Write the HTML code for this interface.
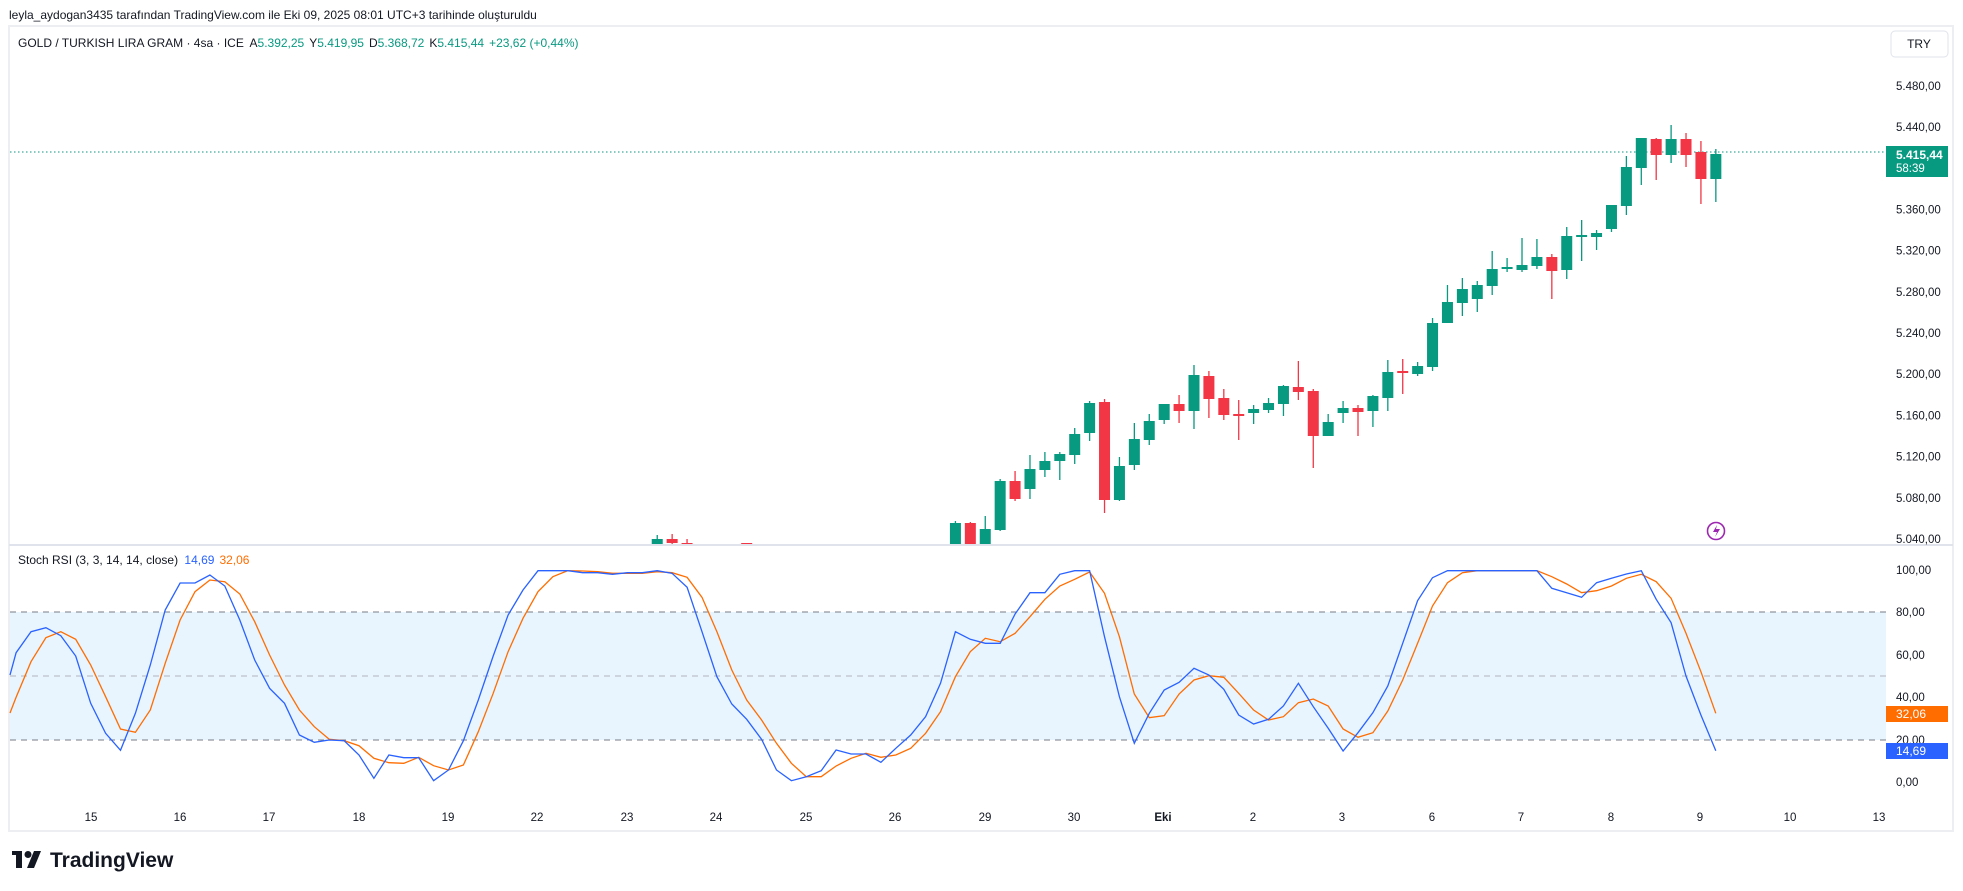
<!DOCTYPE html>
<html><head><meta charset="utf-8"><style>
body{margin:0;background:#fff;width:1963px;height:891px;overflow:hidden;font-family:"Liberation Sans",sans-serif;}
svg{position:absolute;left:0;top:0}
</style></head><body>
<svg id="s" width="1963" height="891" xmlns="http://www.w3.org/2000/svg" font-family="Liberation Sans, sans-serif">
<text x="9" y="19" font-size="12" fill="#131722">leyla_aydogan3435 tarafından TradingView.com ile Eki 09, 2025 08:01 UTC+3 tarihinde oluşturuldu</text>
<rect x="9" y="26" width="1944" height="805" fill="#fff" stroke="#eceef2" stroke-width="2"/>
<line x1="9" y1="545" x2="1953" y2="545" stroke="#e0e3eb" stroke-width="2"/>
<text x="18" y="47" font-size="12" fill="#131722">GOLD / TURKISH LIRA GRAM · 4sa · ICE <tspan dx="3">A</tspan><tspan fill="#089981">5.392,25</tspan><tspan dx="5">Y</tspan><tspan fill="#089981">5.419,95</tspan><tspan dx="5">D</tspan><tspan fill="#089981">5.368,72</tspan><tspan dx="5">K</tspan><tspan fill="#089981">5.415,44</tspan><tspan dx="5" fill="#089981">+23,62 (+0,44%)</tspan></text>
<rect x="1891" y="31" width="57" height="26" rx="4" fill="#fff" stroke="#e0e3eb"/>
<text x="1919" y="48" font-size="12" fill="#131722" text-anchor="middle">TRY</text>
<g id="g"></g>
<text x="18" y="564" font-size="12" fill="#131722">Stoch RSI (3, 3, 14, 14, close) <tspan dx="3" fill="#2962ff">14,69</tspan><tspan dx="5" fill="#ff6d00">32,06</tspan></text>
<g transform="translate(12,851)">
<rect x="0" y="0" width="10" height="4" fill="#131722"/><rect x="4" y="0" width="6" height="17" fill="#131722"/>
<circle cx="16" cy="3.5" r="3.5" fill="#131722"/><polygon points="22,0 29,0 22,17 15,17" fill="#131722"/>
<text x="38" y="16" font-size="21" font-weight="bold" fill="#131722">TradingView</text></g>
</svg>
<script>
const g=document.getElementById('g');let h='';
const X=i=>16.1+i*14.91;
const py=p=>127+(5440-p)*1.03;
// stoch band
h+=`<rect x="10" y="612" width="1876" height="128" fill="#2196f3" fill-opacity="0.1"/>`;
[612,740].forEach(y=>h+=`<line x1="10" x2="1886" y1="${y}" y2="${y}" stroke="#787b86" stroke-dasharray="6,5"/>`);
h+=`<line x1="10" x2="1886" y1="676" y2="676" stroke="#b2b5be" stroke-dasharray="6,5"/>`;
// price labels
for(let p=5480;p>=5040;p-=40){if(p==5400)continue;h+=`<text x="1896" y="${py(p)+4}" font-size="11.5" fill="#131722">${(p/1000).toFixed(3).replace('.', '.')},00</text>`;}
[[100,570],[80,612],[60,655],[40,697],[20,740],[0,782]].forEach(a=>h+=`<text x="1896" y="${a[1]+4}" font-size="11.5" fill="#131722">${a[0].toFixed(2).replace('.',',')}</text>`);
// time labels
const tl=[['15',91],['16',180],['17',269],['18',359],['19',448],['22',537],['23',627],['24',716],['25',806],['26',895],['29',985],['30',1074],['Eki',1163],['2',1253],['3',1342],['6',1432],['7',1521],['8',1611],['9',1700],['10',1790],['13',1879]];
tl.forEach(t=>h+=`<text x="${t[1]}" y="821" font-size="11.5" fill="#131722" text-anchor="middle" ${t[0]=='Eki'?'font-weight="bold"':''}>${t[0]}</text>`);
// candles [i,type,bt,bb,wt,wb]
const C=[[43,1,539,544,535,544],[44,0,539,543,534,544],[45,0,543,544,539,544],[49,0,543,544,543,544],
[63,1,523,544,521,544],[64,0,523,544,522,544],[65,1,529,544,516,544],[66,1,481,530,479,531],[67,0,481,499,471,501],[68,1,469,489,455,499],[69,1,461,470,452,477],[70,1,454,461,452,480],[71,1,434,455,428,464],[72,1,403,433,401,441],[73,0,402,500,399,513],[74,1,466,500,457,501],[75,1,439,465,423,470],[76,1,421,440,414,445],[77,1,404,420,404,424],[78,0,404,411,395,423],[79,1,375,411,365,429],[80,0,376,399,371,418],[81,0,398,415,389,420],[82,0,414,416,400,440],[83,1,409,413,405,424],[84,1,403,410,398,413],[85,1,386,404,385,416],[86,0,387,392,361,400],[87,0,391,436,389,468],[88,1,422,436,414,436],[89,1,408,413,401,423],[90,0,408,412,405,436],[91,1,396,411,395,427],[92,1,372,398,360,411],[93,0,371,373,359,394],[94,1,366,374,362,376],[95,1,323,367,318,371],[96,1,302,323,285,323],[97,1,289,303,278,316],[98,1,285,299,281,312],[99,1,269,286,251,295],[100,1,267,269,258,272],[101,1,265,270,238,272],[102,1,257,266,239,269],[103,0,257,271,254,299],[104,1,236,270,227,279],[105,1,235,237,220,261],[106,1,233,237,230,250],[107,1,205,229,205,232],[108,1,167,206,156,215],[109,1,138,168,138,185],[110,0,139,155,138,180],[111,1,139,155,125,163],[112,0,139,155,133,167],[113,0,152,179,141,204],[114,1,154,179,149,202]];
h+=`<line x1="10" x2="1886" y1="152" y2="152" stroke="#089981" stroke-dasharray="1.5,2.5"/>`;
C.forEach(c=>{const x=X(c[0]),col=c[1]?'#089981':'#f23645';
h+=`<line x1="${x}" x2="${x}" y1="${c[4]}" y2="${c[5]}" stroke="${col}" stroke-width="1.3"/>`;
h+=`<rect x="${x-5.5}" y="${c[2]}" width="11" height="${Math.max(1.3,c[3]-c[2])}" fill="${col}"/>`;});
h+=`<rect x="9" y="544" width="1877" height="2" fill="#e0e3eb"/>`;
// stoch lines (display y -> real 550+d/3)
const B=[308,245,233,257,318,460,550,601,490,345,180,99,99,75,108,210,330,415,460,555,577,570,572,615,685,615,623,623,692,660,572,450,318,195,120,62,62,62,68,68,73,68,68,62,70,112,245,380,462,508,568,660,692,680,662,600,612,612,637,595,555,500,400,245,268,280,280,192,128,128,73,62,62,260,440,580,490,420,397,355,375,418,495,522,508,468,400,470,535,603,548,488,408,280,152,83,62,62,62,62,62,62,62,115,128,142,98,85,72,62,148,218,378,495,602];
const O=[442,335,263,245,268,345,440,537,547,480,340,210,125,90,95,132,215,315,405,480,530,568,572,587,625,638,640,622,647,660,645,545,430,305,205,125,80,62,63,65,70,70,70,65,68,82,142,245,360,450,510,580,640,680,680,648,625,610,622,615,595,550,485,380,305,265,275,250,200,148,108,88,66,130,260,432,503,497,432,390,377,382,430,480,510,500,458,447,468,537,562,548,483,390,280,168,98,68,62,62,62,62,62,80,102,128,122,108,85,73,95,145,250,365,490];
const pl=(a,s,col)=>{let p=s;a.forEach((d,i)=>p+=` ${X(i).toFixed(1)},${(550+d/3).toFixed(1)}`);return `<polyline points="${p}" fill="none" stroke="${col}" stroke-width="1.3"/>`;};
h+=pl(O,'10,713','#ff6d00');
h+=pl(B,'10,675','#2962ff');
// badges
h+=`<rect x="1886" y="146" width="62" height="31" fill="#089981"/><text x="1896" y="159" font-size="12" fill="#fff" font-weight="bold">5.415,44</text><text x="1896" y="172" font-size="11.5" fill="#fff">58:39</text>`;
h+=`<rect x="1886" y="706" width="62" height="16" fill="#ff6d00"/><text x="1896" y="718" font-size="12" fill="#fff">32,06</text>`;
h+=`<rect x="1886" y="743" width="62" height="16" fill="#2962ff"/><text x="1896" y="755" font-size="12" fill="#fff">14,69</text>`;
h+=`<circle cx="1716" cy="531" r="8.5" fill="none" stroke="#9c27b0" stroke-width="1.6"/><path d="M1717,525 L1713,532 L1717,532 L1715,537 L1720,529 L1716,529 Z" fill="#9c27b0"/>`;
g.innerHTML=h;
</script>
</body></html>
